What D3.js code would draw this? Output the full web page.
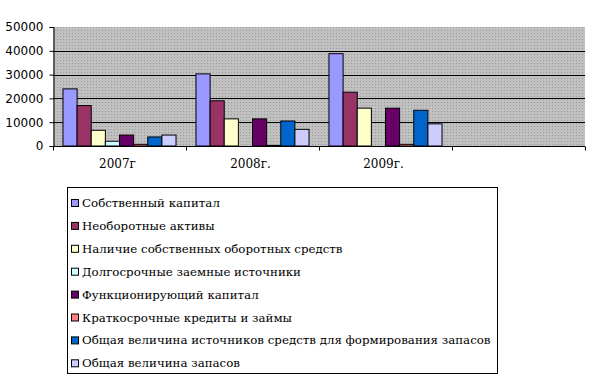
<!DOCTYPE html>
<html>
<head>
<meta charset="utf-8">
<script src="https://cdn.jsdelivr.net/npm/d3@7"></script>
<style>
  body { margin: 0; background: #fff; }
  svg { display: block; }
</style>
</head>
<body>
<div id="chart"></div>
<script>
// Data
const categories = ['2007г', '2008г.', '2009г.', ''];
const seriesNames = [
  'Собственный капитал',
  'Необоротные активы',
  'Наличие собственных оборотных средств',
  'Долгосрочные заемные источники',
  'Функционирующий капитал',
  'Краткосрочные кредиты и займы',
  'Общая величина источников средств для формирования запасов',
  'Общая величина запасов'
];
const values2007 = [24000, 17000, 6600, 2000, 4600, 700, 3800, 4600];
const values2008 = [30300, 19000, 11400, 0, 11400, 250, 10500, 7000];
const values2009 = [38800, 22600, 15900, 0, 15900, 700, 15000, 9300];
const yTicks = [0, 10000, 20000, 30000, 40000, 50000];
const seriesColors = ['#9999ff', '#993366', '#ffffcc', '#ccffff', '#660066', '#ff8080', '#0066cc', '#ccccff'];

const rows = [
  { cat: categories[0], vals: values2007 },
  { cat: categories[1], vals: values2008 },
  { cat: categories[2], vals: values2009 }
];

// -------------------------------------------------------------------------
// Canvas
// -------------------------------------------------------------------------
const W = 601, H = 384;
const plot = { left: 53, right: 585, top: 27, bottom: 146 };
const serif = '"DejaVu Serif", "Liberation Serif", serif';

const svg = d3.select('#chart').append('svg')
  .attr('width', W)
  .attr('height', H);

// dotted gray background pattern like the old Excel fill
const defs = svg.append('defs');
const pat = defs.append('pattern')
  .attr('id', 'dots')
  .attr('width', 3).attr('height', 3)
  .attr('patternUnits', 'userSpaceOnUse');
pat.append('rect').attr('width', 3).attr('height', 3).attr('fill', '#c0c0c0');
pat.append('rect').attr('width', 1).attr('height', 1).attr('fill', '#9a9a9a');

// -------------------------------------------------------------------------
// Scales
// -------------------------------------------------------------------------
const x0 = d3.scaleBand()
  .domain(categories)
  .range([plot.left, plot.right])
  .padding(0);

const bw = x0.bandwidth();
const x1 = d3.scaleBand()
  .domain(seriesNames)
  .range([bw * 0.075, bw * 0.925])
  .padding(0);

const y = d3.scaleLinear()
  .domain([0, 50000])
  .range([plot.bottom, plot.top]);

// plot background
svg.append('rect')
  .attr('x', plot.left)
  .attr('y', plot.top)
  .attr('width', plot.right - plot.left)
  .attr('height', plot.bottom - plot.top)
  .attr('fill', 'url(#dots)');

// gridlines
svg.append('g')
  .selectAll('line')
  .data(yTicks.filter(d => d > 0 && d < 50000))
  .enter().append('line')
  .attr('x1', plot.left)
  .attr('x2', plot.right)
  .attr('y1', d => Math.round(y(d)) + 0.5)
  .attr('y2', d => Math.round(y(d)) + 0.5)
  .attr('stroke', '#000')
  .attr('stroke-width', 1);

// bars
const groups = svg.append('g')
  .selectAll('g')
  .data(rows)
  .enter().append('g')
  .attr('transform', d => `translate(${x0(d.cat)},0)`);

groups.selectAll('rect')
  .data(d => d.vals.map((v, i) => ({ name: seriesNames[i], value: v, color: seriesColors[i] })))
  .enter().append('rect')
  .filter(d => d.value > 0)
  .attr('x', d => x1(d.name))
  .attr('y', d => y(d.value))
  .attr('width', x1.bandwidth())
  .attr('height', d => y(0) - y(d.value))
  .attr('fill', d => d.color)
  .attr('stroke', '#000')
  .attr('stroke-width', 1);

// -------------------------------------------------------------------------
// Axes
// -------------------------------------------------------------------------
const yAxis = svg.append('g')
  .attr('transform', `translate(${plot.left + 0.5},0)`)
  .call(d3.axisLeft(y).tickValues(yTicks).tickSize(4).tickPadding(6).tickFormat(d3.format('d')));
yAxis.select('.domain').attr('stroke', '#000');
yAxis.selectAll('text')
  .style('font-family', '"DejaVu Sans", sans-serif')
  .style('font-size', '12px')
  .attr('fill', '#000');

const xAxis = svg.append('g')
  .attr('transform', `translate(0,${plot.bottom + 0.5})`);
xAxis.append('line')
  .attr('x1', plot.left).attr('x2', plot.right)
  .attr('stroke', '#000');
xAxis.selectAll('.tick')
  .data(categories.map(c => x0(c)).concat([plot.right]))
  .enter().append('line')
  .attr('class', 'tick')
  .attr('x1', d => Math.round(d) + 0.5)
  .attr('x2', d => Math.round(d) + 0.5)
  .attr('y1', 0).attr('y2', 4)
  .attr('stroke', '#000');
xAxis.selectAll('.lbl')
  .data(categories)
  .enter().append('text')
  .attr('class', 'lbl')
  .attr('x', d => x0(d) + bw / 2 - 2)
  .attr('y', 21)
  .attr('text-anchor', 'middle')
  .style('font-family', serif)
  .style('font-size', '12px')
  .text(d => d);

// -------------------------------------------------------------------------
// Legend
// -------------------------------------------------------------------------
const legend = svg.append('g');
legend.append('rect')
  .attr('x', 67.5).attr('y', 187.5)
  .attr('width', 430).attr('height', 186)
  .attr('fill', '#fff')
  .attr('stroke', '#000');

const items = legend.selectAll('g.item')
  .data(seriesNames)
  .enter().append('g')
  .attr('class', 'item')
  .attr('transform', (d, i) => `translate(71,${203 + i * 22.9})`);

items.append('rect')
  .attr('x', 0.5).attr('y', -3.5)
  .attr('width', 7).attr('height', 7)
  .attr('fill', (d, i) => seriesColors[i])
  .attr('stroke', '#000');

items.append('text')
  .attr('x', 11)
  .attr('y', 4)
  .style('font-family', serif)
  .style('font-size', '11.8px')
  .text(d => d);
</script>
</body>
</html>
